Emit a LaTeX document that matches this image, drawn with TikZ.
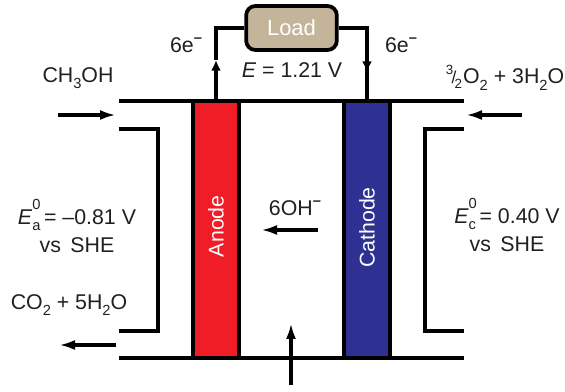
\documentclass[tikz,border=0pt]{standalone}
\usepackage{fontspec}
\setmainfont{Liberation Sans}
\usepackage{tikz}
\usetikzlibrary{arrows.meta,positioning}
\definecolor{cAnode}{HTML}{F01C26}
\definecolor{cCath}{HTML}{2E3192}
\definecolor{cLoad}{HTML}{C4B59A}
\definecolor{cInk}{HTML}{231F20}
\newcommand{\sbs}[1]{\raisebox{-.3em}{\fontsize{11}{11}\selectfont #1}}
\newcommand{\sps}[1]{\raisebox{.46em}{\fontsize{11}{11}\selectfont #1}}
\newcommand{\subsup}[2]{\rlap{\raisebox{.68em}{\fontsize{11}{11}\selectfont #1}}\raisebox{-.3em}{\fontsize{11}{11}\selectfont #2}}
\tikzset{
  >={Latex[length=12pt,width=7.5pt]},
  txt/.style   ={text=cInk,inner sep=0pt,align=center,font=\fontsize{16}{21}\selectfont},
  elec/.style  ={draw=black,line width=2.4pt,minimum width=192.5pt,minimum height=34.5pt,
                 rotate=90,text=white,inner sep=0pt,font=\fontsize{16}{18}\selectfont},
  loadbox/.style={draw=black,fill=cLoad,line width=2.8pt,rounded corners=7pt,text=white,
                 minimum width=68pt,minimum height=33pt,font=\fontsize{16.5}{19}\selectfont},
  wall/.style  ={line width=2.4pt,black},
  ar/.style    ={->,line width=2.4pt,black},
  arw/.style   ={-{Latex[length=8pt,width=7.5pt]},line width=2.4pt,black},
}
\begin{document}
\begin{tikzpicture}[x=0.75pt,y=-0.75pt]
\useasboundingbox (0,0) rectangle (565,392);

% cell body
\coordinate (topL) at (119,101);
\coordinate (topR) at (464,101);
\coordinate (botL) at (119,358);
\coordinate (botR) at (464,358);
\coordinate (inAa) at (119,129);
\coordinate (inAb) at (158,129);
\coordinate (inAc) at (158,331);
\coordinate (inAd) at (119,331);
\coordinate (inCa) at (464,129);
\coordinate (inCb) at (425,129);
\coordinate (inCc) at (425,331);
\coordinate (inCd) at (464,331);
\node[elec,fill=cAnode] (anode) at (216,229.5) {\hspace*{5pt}Anode};
\node[elec,fill=cCath] (cathode) at (367,229.5) {\hspace*{3pt}Cathode};
\draw[wall] (topL)--(topR);
\draw[wall] (botL)--(botR);
\draw[wall] (inAa)--(inAb)--(inAc)--(inAd);
\draw[wall] (inCa)--(inCb)--(inCc)--(inCd);

% external circuit
\node[loadbox] (load) at (291.5,28) {Load};
\coordinate (crA) at (216,28);
\coordinate (crC) at (367,28);
\coordinate (tipA) at (216,60);
\coordinate (tipC) at (367,72);
\draw[arw] (anode.east)--(tipA);
\draw[wall] (tipA)--(crA)--(load.west);
\draw[wall] (load.east)--(crC)--(tipC);
\draw[arw] (crC)--(tipC);
\draw[wall] (tipC)--(cathode.east);
\node[txt] (eL) at (186,45) {6e\sps{\bfseries –}};
\node[txt] (eR) at (401,45) {6e\sps{\bfseries –}};
\node[txt] (volt) at (292,70) {\textit{E} = 1.21 V};

% anode side
\node[txt] (meth) at (78,78) {CH\sbs{3}OH};
\coordinate (mA) at (58,115);
\coordinate (mB) at (116,115);
\draw[ar] (mA)--(mB);
\node[txt] (Ea) at (77,226) {\textit{E}\subsup{0}{a}\,= –0.81 V\\vs\, SHE};
\node[txt] (co) at (69,305) {CO\sbs{2} + 5H\sbs{2}O};
\coordinate (coA) at (116,345);
\coordinate (coB) at (59,345);
\draw[ar] (coA)--(coB);

% cathode side
\node[txt] (oxy) at (505,78) {\raisebox{.42em}{\fontsize{10}{10}\selectfont 3}\kern-.08em\fontsize{13}{13}\selectfont/\kern-.1em\raisebox{-.24em}{\fontsize{10}{10}\selectfont 2}\fontsize{16}{21}\selectfont\kern.05em O\sbs{2} + 3H\sbs{2}O};
\coordinate (oA) at (522,115);
\coordinate (oB) at (466,115);
\draw[ar] (oA)--(oB);
\node[txt] (Ec) at (507,225) {\textit{E}\subsup{0}{c}\,= 0.40 V\\vs\, SHE};

% electrolyte
\node[txt] (oh) at (295,208) {6OH\sps{\bfseries –}};
\coordinate (ohA) at (318,230);
\coordinate (ohB) at (261,230);
\draw[ar] (ohA)--(ohB);
\coordinate (upA) at (291,385);
\coordinate (upB) at (291,323);
\draw[ar] (upA)--(upB);
\end{tikzpicture}
\end{document}
